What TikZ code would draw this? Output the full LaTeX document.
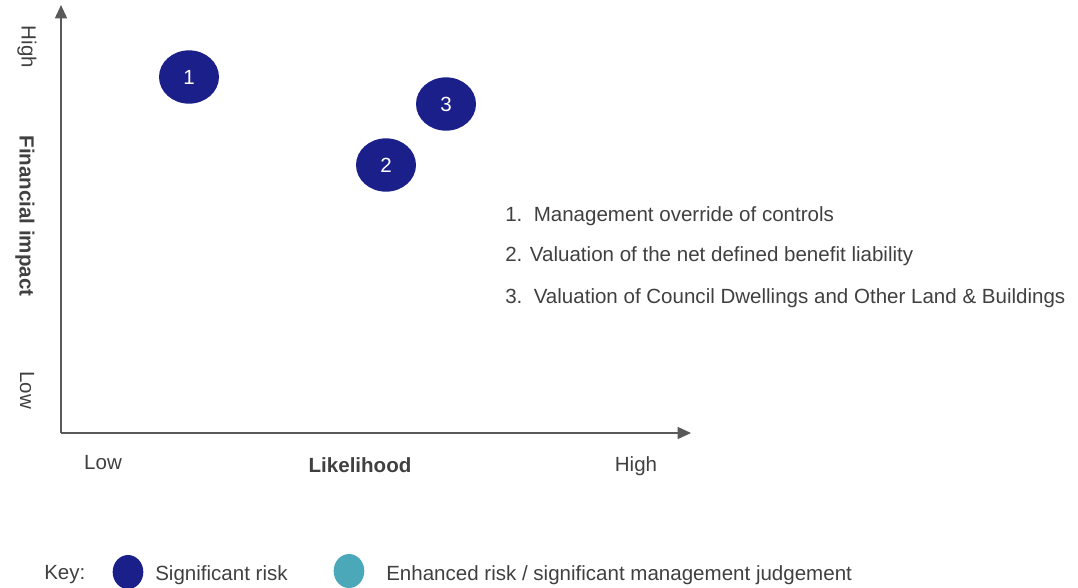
\documentclass[tikz,border=0pt]{standalone}
\usepackage{fontspec}
\setmainfont{Liberation Sans}
\usetikzlibrary{arrows.meta, shapes.geometric}
\definecolor{riskblue}{HTML}{1B1F8A}
\definecolor{riskteal}{HTML}{4BA8B8}
\definecolor{axisgrey}{HTML}{595959}
\definecolor{textgrey}{HTML}{404040}
\begin{document}
\begin{tikzpicture}[x=0.75pt, y=-0.75pt,
  every node/.style={font=\fontsize{15.4}{18}\selectfont, text=textgrey, inner sep=0pt},
  axis/.style={draw=axisgrey, line width=1.1pt, -{Triangle[length=10pt, width=9pt]}},
  risk/.style={ellipse, fill=riskblue, minimum width=45pt, minimum height=40pt, text=white},
  keydot/.style={ellipse, minimum width=23pt, minimum height=25.5pt}]
\useasboundingbox (0,0) rectangle (1078,587);

% axes
\coordinate (O) at (61,433);
\coordinate (ytop) at (61,5);
\coordinate (xend) at (691,433);
\draw [axis] (O) -- (ytop);
\draw [axis] (O) -- (xend);

% axis labels
\node (yhigh) at (27,47) [rotate=-90] {High};
\node (ylab) at (25,216) [rotate=-90] {\bfseries Financial impact};
\node (ylow) at (27,390) [rotate=-90] {Low};
\node (xlow) at (103,463) {Low};
\node (xlab) at (360,465) {\bfseries Likelihood};
\node (xhigh) at (636,466) {High};

% risks
\node (r1) at (189,77) [risk] {1};
\node (r2) at (386,165) [risk] {2};
\node (r3) at (446,104) [risk] {3};

% list
\node (l1) at (505,216) [anchor=west] {1.\ \ Management override of controls};
\node (l2) at (505,256) [anchor=west] {2. Valuation of the net defined benefit liability};
\node (l3) at (505,298) [anchor=west] {3.\ \ Valuation of Council Dwellings and Other Land \& Buildings};

% key
\node (key) at (44,575) [anchor=west] {Key:};
\node (k1) at (128,572) [keydot, fill=riskblue] {};
\node (k1t) at (155,575) [anchor=west] {Significant risk};
\node (k2) at (349,571) [keydot, fill=riskteal] {};
\node (k2t) at (386,575) [anchor=west] {Enhanced risk / significant management judgement};
\end{tikzpicture}
\end{document}
